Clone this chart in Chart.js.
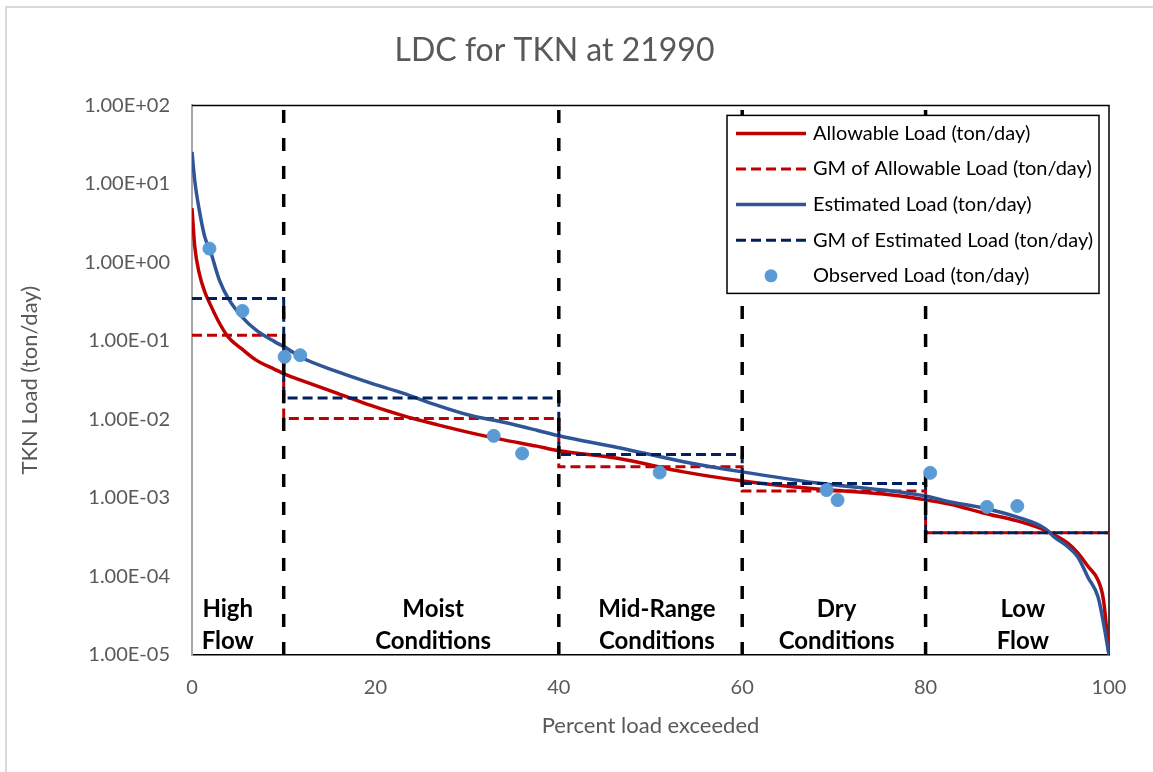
<!DOCTYPE html>
<html>
<head>
<meta charset="utf-8">
<script src="https://cdn.jsdelivr.net/npm/chart.js@4.4.1/dist/chart.umd.min.js"></script>
<style>
  html, body { margin: 0; padding: 0; background: #fff; }
  #wrap { position: relative; width: 1153px; height: 772px; overflow: hidden; }
  #frame { position: absolute; left: 5px; top: 6px; width: 1200px; height: 800px;
           border-left: 2px solid #d9d9d9; border-top: 2px solid #d9d9d9; pointer-events: none; }
</style>
</head>
<body>
<div id="wrap">
  <canvas id="ldcChart" width="1153" height="772"></canvas>
  <div id="frame"></div>
</div>
<script>
// percent of time load exceeded (shared grid for both duration curves)
const pctGrid = [0, 0.3, 0.8, 1.4, 2, 3, 4, 5.5, 7, 9, 10.3, 12, 16, 19.5, 23, 26.7, 30.3, 34, 37.6, 40,
  46.4, 53.6, 60, 68.2, 75.4, 80, 82.7, 86.4, 90, 93, 94, 95.5, 96.6, 97.7, 98.8, 99.4, 100];
const allowableLoad = [4.9, 1.6, 0.72, 0.42, 0.29, 0.168, 0.11, 0.078, 0.057, 0.0435, 0.037, 0.0313, 0.0212,
  0.0151, 0.0112, 0.0086, 0.0068, 0.0055, 0.00457, 0.0040, 0.0032, 0.00215, 0.00165, 0.0013, 0.00112, 0.00095,
  0.00083, 0.00064, 0.00051, 0.00039, 0.00034, 0.000266, 0.0002, 0.000135, 0.00009, 0.00005, 0.00001];
const estimatedLoad = [25.5, 11, 4.6, 2.1, 1.4, 0.59, 0.34, 0.20, 0.137, 0.098, 0.081, 0.061, 0.040,
  0.029, 0.0216, 0.0152, 0.0113, 0.0092, 0.0073, 0.0062, 0.0044, 0.0029, 0.00215, 0.00155, 0.00126, 0.00106,
  0.00089, 0.00074, 0.00057, 0.00041, 0.00032, 0.00024, 0.000177, 0.000098, 0.000055, 0.0000255, 0.00001];

// flow zones and geometric means per zone
const zoneEdges = [0, 10, 40, 60, 80, 100];
const zoneNames = [["High", "Flow"], ["Moist", "Conditions"], ["Mid-Range", "Conditions"], ["Dry", "Conditions"], ["Low", "Flow"]];
const gmAllowable = [0.118, 0.0103, 0.00249, 0.00123, 0.00036];
const gmEstimated = [0.347, 0.0188, 0.00358, 0.00153, 0.00036];

// observed samples
const obsPct = [1.9, 5.5, 10.1, 11.8, 32.9, 36.0, 51.0, 69.2, 70.4, 80.5, 86.7, 90.0];
const obsLoad = [1.50, 0.241, 0.0627, 0.0658, 0.00618, 0.00369, 0.00211, 0.00126, 0.00094, 0.00209, 0.00077, 0.00079];

const yTicks = [1e-5, 1e-4, 1e-3, 1e-2, 1e-1, 1e0, 1e1, 1e2];
const xTicks = [0, 20, 40, 60, 80, 100];

const FONT = "Lato, 'Open Sans', sans-serif";
const RED = "#c00000", BLUE = "#2f5597", NAVY = "#002060", DOT = "#5b9bd5";

const toPts = (xs, ys) => xs.map((x, i) => ({ x: x, y: ys[i] }));
const stepPts = (vals) => {
  const pts = [];
  vals.forEach((v, i) => { pts.push({ x: zoneEdges[i], y: v }); pts.push({ x: zoneEdges[i + 1], y: v }); });
  return pts;
};

const fmtSci = (v) => {
  const [m, e] = Number(v).toExponential(2).split("e");
  const n = parseInt(e, 10);
  return m + "E" + (n < 0 ? "-" : "+") + String(Math.abs(n)).padStart(2, "0");
};

const yMin = yTicks[0], yMax = yTicks[yTicks.length - 1];

const datasets = [
  { label: "Allowable Load (ton/day)", data: toPts(pctGrid, allowableLoad), borderColor: RED, borderWidth: 3.5,
    pointRadius: 0, cubicInterpolationMode: "monotone", order: 6 },
  { label: "GM of Allowable Load (ton/day)", data: stepPts(gmAllowable), borderColor: RED, borderWidth: 3,
    borderDash: [10, 5], pointRadius: 0, order: 5 },
  { label: "Estimated Load (ton/day)", data: toPts(pctGrid, estimatedLoad), borderColor: BLUE, borderWidth: 3.5,
    pointRadius: 0, cubicInterpolationMode: "monotone", order: 4 },
  { label: "GM of Estimated Load (ton/day)", data: stepPts(gmEstimated), borderColor: NAVY, borderWidth: 3,
    borderDash: [10, 5], pointRadius: 0, order: 3 },
  { label: "Observed Load (ton/day)", data: toPts(obsPct, obsLoad), showLine: false, pointRadius: 6.5,
    pointBackgroundColor: DOT, pointBorderColor: DOT, borderColor: DOT, order: 1 }
];
// zone boundary lines
zoneEdges.slice(1, -1).forEach((x) => {
  datasets.push({ label: "_zone", data: [{ x: x, y: yMin }, { x: x, y: yMax }], borderColor: "#000",
    borderWidth: 3.5, borderDash: [13, 15], pointRadius: 0, order: 2 });
});

// top/right frame of the plot area
const plotFrame = {
  id: "plotFrame",
  beforeDatasetsDraw(chart) {
    const { ctx, chartArea: a } = chart;
    ctx.save();
    ctx.strokeStyle = "#000";
    ctx.lineWidth = 1.5;
    ctx.beginPath();
    ctx.moveTo(a.left, a.top);
    ctx.lineTo(a.right, a.top);
    ctx.lineTo(a.right, a.bottom);
    ctx.stroke();
    ctx.restore();
  }
};

// zone names inside the plot
const zoneLabels = {
  id: "zoneLabels",
  afterDatasetsDraw(chart) {
    const { ctx, scales: { x } } = chart;
    const pos = [3.9, 26.3, 50.7, 70.3, 90.6];
    ctx.save();
    ctx.font = "bold 24px " + FONT;
    ctx.fillStyle = "#000";
    ctx.textAlign = "center";
    ctx.textBaseline = "middle";
    zoneNames.forEach((lines, i) => {
      lines.forEach((t, j) => ctx.fillText(t, x.getPixelForValue(pos[i]), 609 + j * 32));
    });
    ctx.restore();
  }
};

// legend box in the upper right corner of the plot
const boxLegend = {
  id: "boxLegend",
  afterDatasetsDraw(chart) {
    const { ctx, chartArea: a } = chart;
    const items = chart.data.datasets.filter((d) => d.label !== "_zone");
    const right = a.right - 10, left = 727, top = a.top + 10, rowH = 35.6;
    const bottom = top + rowH * items.length;
    ctx.save();
    ctx.fillStyle = "#fff";
    ctx.fillRect(left, top, right - left, bottom - top);
    ctx.strokeStyle = "#000";
    ctx.lineWidth = 1.5;
    ctx.strokeRect(left, top, right - left, bottom - top);
    ctx.font = "20px " + FONT;
    ctx.textBaseline = "middle";
    items.forEach((d, i) => {
      const cy = top + 18 + i * rowH;
      if (d.showLine === false) {
        ctx.fillStyle = d.pointBackgroundColor;
        ctx.beginPath();
        ctx.arc(771, cy, 6.5, 0, Math.PI * 2);
        ctx.fill();
      } else {
        ctx.strokeStyle = d.borderColor;
        ctx.lineWidth = d.borderWidth;
        ctx.setLineDash(d.borderDash || []);
        ctx.beginPath();
        ctx.moveTo(736, cy);
        ctx.lineTo(806, cy);
        ctx.stroke();
        ctx.setLineDash([]);
      }
      ctx.fillStyle = "#000";
      ctx.fillText(d.label, 813, cy);
    });
    ctx.restore();
  }
};

const config = {
  type: "line",
  data: { datasets: datasets },
  options: {
    responsive: false,
    animation: false,
    events: [],
    layout: { padding: { left: 0, right: 44, top: 0, bottom: 0 } },
    plugins: {
      legend: { display: false },
      tooltip: { enabled: false },
      title: {
        display: true,
        text: "LDC for TKN at 21990",
        color: "#595959",
        font: { family: FONT, size: 32, weight: "normal" },
        padding: { top: 31, bottom: 36 }
      }
    },
    scales: {
      x: {
        type: "linear",
        min: 0,
        max: 100,
        grid: { display: false, drawTicks: false },
        border: { color: "#000", width: 1.5 },
        afterBuildTicks: (s) => { s.ticks = xTicks.map((v) => ({ value: v })); },
        afterFit: (s) => { s.height = 117; },
        ticks: { color: "#595959", font: { family: FONT, size: 20 }, padding: 21, maxRotation: 0 },
        title: { display: true, text: "Percent load exceeded", color: "#595959",
                 font: { family: FONT, size: 22 }, padding: { top: 0, bottom: 33 } }
      },
      y: {
        type: "logarithmic",
        min: yMin,
        max: yMax,
        grid: { display: false, drawTicks: false },
        border: { color: "#a6a6a6", width: 2 },
        afterBuildTicks: (s) => { s.ticks = yTicks.map((v) => ({ value: v })); },
        afterFit: (s) => { s.width = 192; },
        ticks: { color: "#595959", font: { family: FONT, size: 20 }, padding: 22, callback: (v) => fmtSci(v) },
        title: { display: true, text: "TKN Load (ton/day)", color: "#595959",
                 font: { family: FONT, size: 22 }, padding: { top: 17, bottom: 0 } }
      }
    }
  },
  plugins: [plotFrame, zoneLabels, boxLegend]
};

let ldcChart;
const cntx = document.getElementById("ldcChart").getContext("2d");
if (ldcChart) ldcChart.destroy();
ldcChart = new Chart(cntx, config);
</script>
</body>
</html>
